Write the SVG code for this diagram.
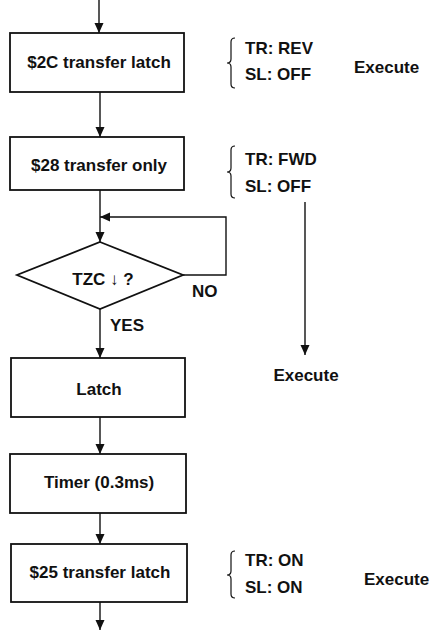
<svg xmlns="http://www.w3.org/2000/svg" width="435" height="630" viewBox="0 0 435 630">
<style>
.box{fill:#fff;stroke:#111;stroke-width:1.8}
.ln{fill:none;stroke:#111;stroke-width:1.4}
.br{fill:none;stroke:#111;stroke-width:1.2}
text{font-family:"Liberation Sans",Arial,sans-serif;font-size:17px;font-weight:bold;fill:#111}
.c{text-anchor:middle}
</style>
<defs>
<marker id="ah" markerUnits="userSpaceOnUse" markerWidth="12" markerHeight="12" refX="10" refY="4.5" orient="auto">
<path d="M0,0 L10,4.5 L0,9 Z" fill="#111"/>
</marker>
</defs>
<rect width="435" height="630" fill="#fff"/>
<g id="connectors">
<line class="ln" x1="99" y1="0" x2="99" y2="33" marker-end="url(#ah)"/>
<line class="ln" x1="100" y1="92" x2="100" y2="137" marker-end="url(#ah)"/>
<line class="ln" x1="100" y1="190" x2="100" y2="242" marker-end="url(#ah)"/>
<polyline class="ln" points="183,275 226,275 226,217 100,217" marker-end="url(#ah)"/>
<line class="ln" x1="100" y1="309" x2="100" y2="358" marker-end="url(#ah)"/>
<line class="ln" x1="100" y1="417" x2="100" y2="454" marker-end="url(#ah)"/>
<line class="ln" x1="100" y1="513" x2="100" y2="544" marker-end="url(#ah)"/>
<line class="ln" x1="100" y1="602" x2="100" y2="630" marker-end="url(#ah)"/>
<line class="ln" x1="305" y1="202" x2="305" y2="355" marker-end="url(#ah)"/>
</g>
<g id="n1">
<rect class="box" x="10" y="33" width="174" height="59"/>
<text class="c" x="99" y="68">$2C transfer latch</text>
</g>
<g id="n2">
<rect class="box" x="10" y="137" width="174" height="53"/>
<text class="c" x="99" y="171">$28 transfer only</text>
</g>
<g id="n3">
<polygon class="box" points="100,242 183,275 100,309 17,275"/>
<text class="c" x="103" y="285">TZC ↓ ?</text>
</g>
<g id="n4">
<rect class="box" x="11" y="358" width="174" height="59"/>
<text class="c" x="99" y="395">Latch</text>
</g>
<g id="n5">
<rect class="box" x="10" y="454" width="176" height="59"/>
<text class="c" x="99" y="488">Timer (0.3ms)</text>
</g>
<g id="n6">
<rect class="box" x="11" y="544" width="176" height="58"/>
<text class="c" x="100" y="578">$25 transfer latch</text>
</g>
<g id="labels">
<text x="192" y="297">NO</text>
<text x="110" y="331">YES</text>
<path class="br" d="M235,38 Q231,38 231,42 L231,59 Q231,63 227,63 Q231,63 231,67 L231,84 Q231,88 235,88"/>
<text x="245" y="54">TR: REV</text>
<text x="245" y="80">SL: OFF</text>
<text x="354" y="73">Execute</text>
<path class="br" d="M235,146 Q231,146 231,150 L231,168 Q231,172 227,172 Q231,172 231,176 L231,194 Q231,198 235,198"/>
<text x="245" y="165">TR: FWD</text>
<text x="245" y="192">SL: OFF</text>
<text class="c" x="306" y="381">Execute</text>
<path class="br" d="M235,551 Q231,551 231,555 L231,571 Q231,575 227,575 Q231,575 231,579 L231,594 Q231,598 235,598"/>
<text x="245" y="566">TR: ON</text>
<text x="245" y="593">SL: ON</text>
<text x="364" y="585">Execute</text>
</g>
</svg>
